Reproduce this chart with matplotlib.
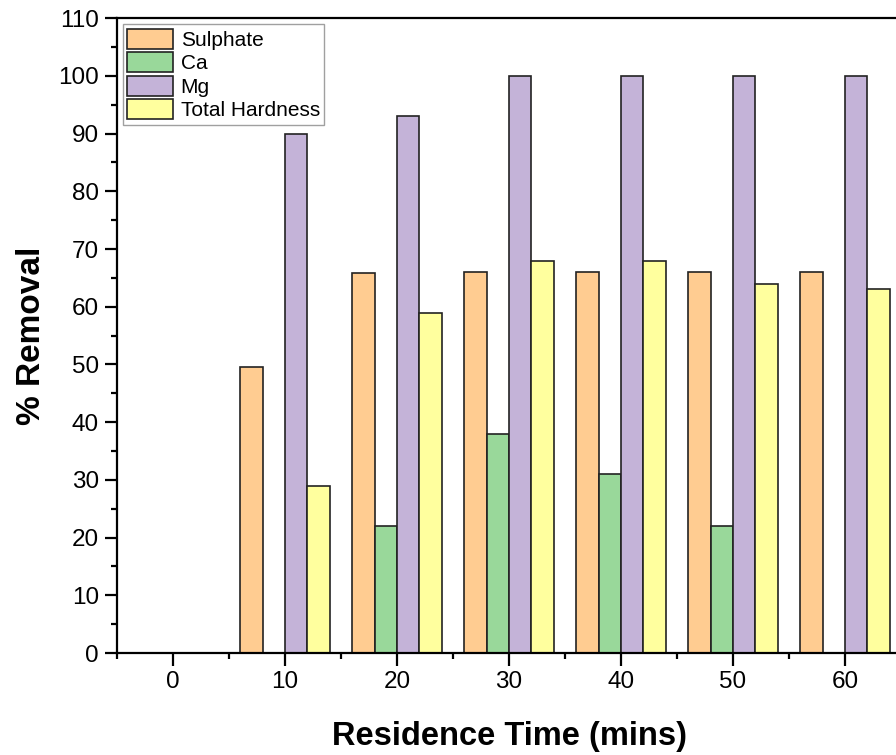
import numpy as np
import matplotlib
matplotlib.use("Agg")
from matplotlib import pyplot as plt
from matplotlib.ticker import MultipleLocator

plt.rcParams['font.family'] = ['Liberation Sans', 'DejaVu Sans']

times = [0, 10, 20, 30, 40, 50, 60]
sulphate = [0, 49.6, 65.8, 66, 66, 66, 66]
ca = [0, 0, 22, 38, 31, 22, 0]
mg = [0, 90, 93, 100, 100, 100, 100]
hardness = [0, 29, 59, 68, 68, 64, 63]

series = [("Sulphate", sulphate, "#FFCC91"),
          ("Ca", ca, "#99D89A"),
          ("Mg", mg, "#C4B3D8"),
          ("Total Hardness", hardness, "#FFFF9E")]

fig = plt.figure(figsize=(8.96, 7.55), dpi=100)
ax = fig.add_axes([0.1306, 0.135, 0.875, 0.841])

w = 2.0
x = np.array(times, dtype=float)
for i, (name, vals, col) in enumerate(series):
    ax.bar(x + (i - 1.5) * w, vals, width=w, color=col,
           edgecolor="#222222", linewidth=1.2, label=name)

ax.set_xlim(-5, 65)
ax.set_ylim(0, 110)
ax.set_xticks(times)
ax.xaxis.set_minor_locator(MultipleLocator(5))
ax.yaxis.set_major_locator(MultipleLocator(10))
ax.yaxis.set_minor_locator(MultipleLocator(5))
ax.tick_params(which="major", direction="out", length=9, width=1.6, labelsize=17.5, pad=4)
ax.tick_params(which="minor", direction="out", length=4.5, width=1.6)
for s in ax.spines.values():
    s.set_linewidth(1.6)

ax.set_xlabel("Residence Time (mins)", fontsize=23.5, fontweight="bold", labelpad=20)
ax.set_ylabel("% Removal", fontsize=24, fontweight="bold", labelpad=8)

leg = ax.legend(loc="upper left", fontsize=15, fancybox=False, edgecolor="#888888",
                handlelength=2.2, handleheight=1.1, handletextpad=0.35,
                labelspacing=0.12, borderpad=0.2, borderaxespad=0.3)
leg.get_frame().set_linewidth(1.0)

fig.savefig("out.png", dpi=100)
